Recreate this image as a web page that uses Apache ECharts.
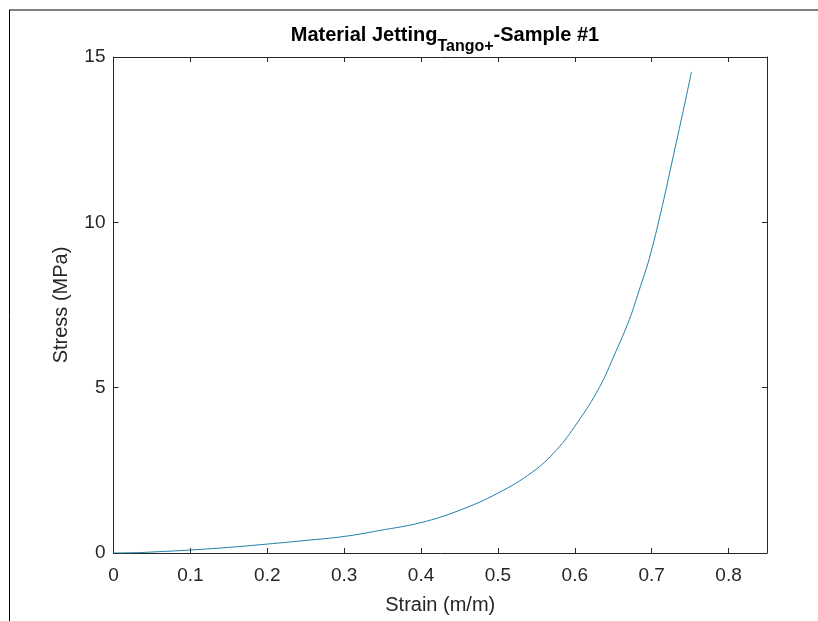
<!DOCTYPE html>
<html>
<head>
<meta charset="utf-8">
<script src="https://cdn.jsdelivr.net/npm/echarts@6/dist/echarts.min.js"></script>
<style>
  html, body { margin: 0; padding: 0; background: #fff; }
  #chart { width: 818px; height: 621px; }
</style>
</head>
<body>
<div id="chart"></div>
<script>
// strain (m/m) and stress (MPa)
const strain = [0, 0.03, 0.05, 0.1, 0.15, 0.2, 0.25, 0.3, 0.346, 0.4, 0.45, 0.5, 0.545, 0.5756, 0.6036, 0.6318, 0.6526, 0.6708, 0.6838, 0.6968, 0.7119, 0.7262, 0.7422, 0.7517]
const stress = [0, 0.01, 0.03, 0.09, 0.17, 0.27, 0.38, 0.5, 0.68, 0.92, 1.29, 1.81, 2.45, 3.1, 3.95, 5.0, 6.05, 7.05, 7.95, 8.9, 10.3, 11.8, 13.5, 14.55]
const xTicks = [0, 0.1, 0.2, 0.3, 0.4, 0.5, 0.6, 0.7, 0.8]
const yTicks = [0, 5, 10, 15]

const font = 'Liberation Sans, Arial, sans-serif'
const textColor = '#262626'
const axisColor = '#262626'

var myChart = echarts.init(document.getElementById('chart'))

const tickStyle = { show: true, inside: true, length: 5, lineStyle: { color: axisColor, width: 1 } }
const lineStyle = { show: true, onZero: false, lineStyle: { color: axisColor, width: 1 } }

const option = {
  animation: false,
  backgroundColor: '#fff',
  title: {
    text: '{m|Material Jetting}{s|Tango+}{m|-Sample #1}',
    left: 440,
    textAlign: 'center',
    top: 20,
    textStyle: {
      rich: {
        m: { fontFamily: font, fontWeight: 'bold', fontSize: 20, color: '#000', verticalAlign: 'top', padding: [0, 0, 10, 0] },
        s: { fontFamily: font, fontWeight: 'bold', fontSize: 16, color: '#000', verticalAlign: 'bottom', padding: [12, 0, 0, 0] }
      }
    }
  },
  grid: { left: 113.5, right: 51, top: 57, bottom: 68, containLabel: false },
  xAxis: [
    {
      type: 'value', min: 0, max: 0.85, interval: 0.1,
      name: 'Strain (m/m)', nameLocation: 'middle', nameGap: 42,
      nameTextStyle: { fontFamily: font, fontSize: 20, color: textColor },
      axisLine: lineStyle, axisTick: tickStyle, splitLine: { show: false },
      axisLabel: {
        fontFamily: font, fontSize: 19, color: textColor, margin: 13,
        showMaxLabel: false,
        formatter: v => xTicks.some(t => Math.abs(t - v) < 1e-9) ? String(Math.round(v * 10) / 10) : ''
      }
    },
    {
      type: 'value', min: 0, max: 0.85, interval: 0.1, position: 'top',
      axisLine: lineStyle, axisTick: tickStyle, axisLabel: { show: false }, splitLine: { show: false }
    }
  ],
  yAxis: [
    {
      type: 'value', min: 0, max: 15, interval: 5,
      name: 'Stress (MPa)', nameLocation: 'middle', nameGap: 42,
      nameTextStyle: { fontFamily: font, fontSize: 20, color: textColor },
      axisLine: lineStyle, axisTick: tickStyle, splitLine: { show: false },
      axisLabel: {
        fontFamily: font, fontSize: 19, color: textColor, margin: 8,
        formatter: v => yTicks.includes(v) ? String(v) : ''
      }
    },
    {
      type: 'value', min: 0, max: 15, interval: 5, position: 'right',
      axisLine: lineStyle, axisTick: tickStyle, axisLabel: { show: false }, splitLine: { show: false }
    }
  ],
  series: [
    {
      type: 'line',
      data: strain.map((s, i) => [s, stress[i]]),
      smooth: 0.4,
      showSymbol: false,
      lineStyle: { color: '#1f80a8', width: 1 }
    }
  ],
  graphic: [
    { type: 'line', shape: { x1: 9, y1: 10, x2: 818, y2: 10 }, style: { stroke: '#808080', lineWidth: 2 } },
    { type: 'line', shape: { x1: 9.5, y1: 10, x2: 9.5, y2: 621 }, style: { stroke: '#000', lineWidth: 1 } }
  ]
}

myChart.setOption(option)
</script>
</body>
</html>
